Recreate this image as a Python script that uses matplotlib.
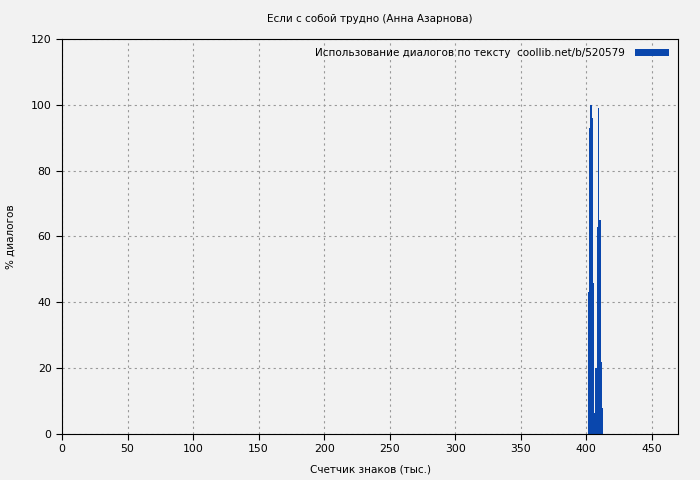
import matplotlib
matplotlib.use("Agg")
import matplotlib.pyplot as plt

# тысячи знаков и доля диалогов, %
positions = [401, 402, 403, 404, 405, 406, 407, 408, 409, 410, 411, 412]
dialog_pct = [43, 93, 100, 96, 46, 6.5, 20, 63, 99, 65, 22, 8]
x_ticks = [0, 50, 100, 150, 200, 250, 300, 350, 400, 450]
y_ticks = [0, 20, 40, 60, 80, 100, 120]

plt.rcParams['font.family'] = ['DejaVu Sans']
plt.rcParams['font.size'] = 7.5

fig = plt.figure(figsize=(7, 4.8), dpi=100, facecolor='#f2f2f2')
ax = fig.add_axes([0.0886, 0.0958, 0.88, 0.823])
ax.set_facecolor('#f2f2f2')

ax.bar(positions, dialog_pct, width=1, align='edge', color='#0a47ad',
       label='Использование диалогов по тексту  coollib.net/b/520579')

ax.set_xlim(0, 470)
ax.set_ylim(0, 120)
ax.set_xticks(x_ticks)
ax.set_yticks(y_ticks)
ax.grid(True, color='#999999', linestyle=(0, (2, 3)), linewidth=0.8)
ax.set_axisbelow(True)
ax.tick_params(direction='out', length=4, color='black', labelsize=7.8)
for s in ax.spines.values():
    s.set_color('black')

ax.set_title('Если с собой трудно (Анна Азарнова)', fontsize=7.5, pad=12)
ax.set_xlabel('Счетчик знаков (тыс.)', fontsize=7.5, labelpad=7)
ax.set_ylabel('% диалогов', fontsize=7.5, labelpad=11)
ax.legend(loc='upper right', frameon=False, markerfirst=False,
          handlelength=3.2, handleheight=0.6, handletextpad=1.0,
          fontsize=7.5, borderaxespad=0.5)

fig.savefig('out.png', dpi=100, facecolor=fig.get_facecolor())
